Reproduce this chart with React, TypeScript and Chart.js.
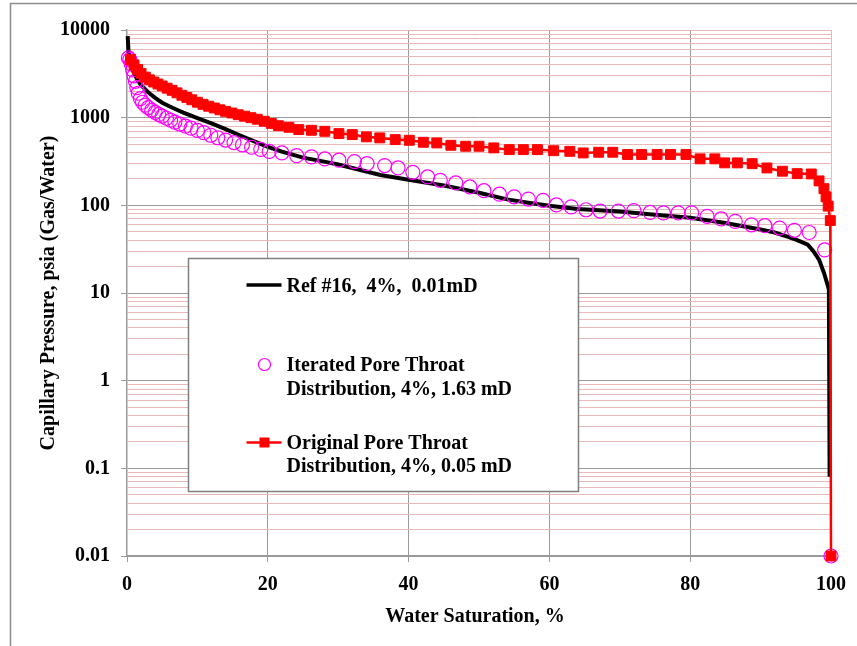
import React, { useEffect, useRef } from 'react';
import { Chart, registerables } from 'chart.js';

Chart.register(...registerables);

// ---------- data ----------
const refSw = [0.1, 0.2, 0.4, 0.7, 1, 1.5, 2, 3, 4, 5, 6, 7, 8, 9, 10, 12, 14, 16, 18, 20, 22, 25, 28, 30, 33, 36, 40, 45, 50, 54, 57, 60, 64, 67, 70, 75, 80, 85, 87.3, 90, 92, 93.8, 95.2, 96.7, 97.5, 98.3, 99, 99.7, 99.8];
const refPc = [8500, 6000, 4500, 3700, 3200, 2700, 2350, 1950, 1680, 1480, 1350, 1240, 1140, 1060, 990, 860, 740, 630, 540, 465, 410, 350, 315, 292, 255, 222, 196, 168, 139, 117, 107, 99, 91, 88, 85, 78, 72, 63, 58, 53, 49, 44, 40, 35.5, 30, 24, 17, 11, 0.08];

const itSw = [0.2, 0.4, 0.6, 0.8, 1.0, 1.2, 1.4, 1.6, 1.9, 2.2, 2.6, 3.0, 3.5, 4.0, 4.5, 5.0, 5.6, 6.2, 6.8, 7.5, 8.3, 9.1, 10.0, 10.9, 11.9, 12.9, 14.0, 15.2, 16.4, 17.7, 19.0, 20.2, 22.0, 24.1, 26.2, 28.1, 30.1, 32.3, 34.1, 36.6, 38.5, 40.6, 42.7, 44.5, 46.7, 48.7, 50.7, 52.9, 55.0, 57.0, 59.1, 61.0, 63.1, 65.2, 67.2, 69.8, 72.0, 74.3, 76.2, 78.3, 80.2, 82.4, 84.4, 86.4, 88.7, 90.6, 92.7, 94.8, 96.9, 99.1, 100];
const itPc = [4800, 4600, 4100, 3500, 3000, 2600, 2200, 1900, 1650, 1500, 1390, 1300, 1220, 1150, 1090, 1040, 985, 935, 890, 845, 800, 760, 715, 675, 630, 590, 555, 520, 490, 460, 435, 412, 396, 369, 357, 338, 327, 316, 299, 284, 267, 238, 211, 193, 180, 162, 147, 134, 125, 118, 114, 101, 96, 89, 86, 86, 87, 83, 82, 82, 82, 75, 70, 65.6, 60, 58.6, 55, 51.9, 49, 31, 0.01];

const orSw = [0.5, 1.0, 1.5, 2.0, 2.6, 3.2, 3.8, 4.4, 5.0, 5.7, 6.4, 7.1, 7.8, 8.5, 9.2, 10.0, 10.8, 11.6, 12.4, 13.2, 14.0, 14.9, 15.8, 16.7, 17.6, 18.5, 19.5, 20.5, 21.5, 23.0, 24.4, 26.2, 28.1, 30.1, 32.0, 34.0, 35.9, 38.1, 40.1, 42.1, 44.0, 46.0, 48.1, 50.0, 52.1, 54.3, 56.3, 58.3, 60.6, 62.9, 64.8, 67.0, 69.0, 71.1, 73.1, 75.3, 77.2, 79.4, 81.4, 83.5, 84.9, 86.7, 88.8, 90.9, 93.1, 95.2, 97.2, 98.3, 99.0, 99.3, 99.6, 99.9, 100];
const orPc = [4600, 4000, 3550, 3200, 2900, 2700, 2550, 2420, 2300, 2170, 2050, 1920, 1800, 1700, 1600, 1500, 1420, 1350, 1290, 1230, 1180, 1130, 1080, 1040, 1000, 960, 910, 860, 810, 777, 731, 718, 699, 658, 641, 604, 588, 562, 552, 524, 515, 484, 472, 472, 452, 432, 432, 432, 420, 413, 396, 403, 403, 380, 380, 380, 380, 380, 339, 339, 305, 305, 299, 267, 245, 230, 228, 190, 155, 125, 98, 67, 0.01];

const xTicks = [0, 20, 40, 60, 80, 100];
const yTickLabels = ['0.01', '0.1', '1', '10', '100', '1000', '10000'];
const seriesNames = [
  ['Ref #16,  4%,  0.01mD'],
  ['Iterated Pore Throat', 'Distribution, 4%, 1.63 mD'],
  ['Original Pore Throat', 'Distribution, 4%, 0.05 mD'],
];
const xTitle = 'Water Saturation, %';
const yTitle = 'Capillary Pressure, psia (Gas/Water)';

// ---------- styling ----------
const FONT = '"Liberation Serif", "Times New Roman", serif';
const GRAY = '#9a9a9a';
const PINK = '#e9b9b9';
const RED = '#ff0000';
const MAGENTA = '#ff00ff';

const yTickValues: number[] = [];
for (let e = -2; e <= 3; e++) {
  for (let m = 1; m <= 9; m++) yTickValues.push(Number((m * Math.pow(10, e)).toPrecision(10)));
}
yTickValues.push(10000);

const isMajor = (v: number) => {
  const l = Math.log10(v);
  return Math.abs(l - Math.round(l)) < 1e-9;
};

const decorPlugin = {
  id: 'decor',
  beforeDraw(chart: any) {
    const ctx = chart.ctx;
    ctx.save();
    ctx.fillStyle = '#ffffff';
    ctx.fillRect(0, 0, chart.width, chart.height);
    ctx.strokeStyle = '#8c8c8c';
    ctx.lineWidth = 1.5;
    ctx.strokeRect(10.5, 3.5, chart.width + 40, chart.height + 40);
    ctx.restore();
  },
  afterDraw(chart: any) {
    const ctx = chart.ctx;
    const area = chart.chartArea;
    ctx.save();
    ctx.fillStyle = '#000';
    ctx.font = `bold 20px ${FONT}`;
    ctx.textAlign = 'center';
    ctx.textBaseline = 'middle';
    ctx.fillText(xTitle, (area.left + area.right) / 2 - 4, 617);
    ctx.save();
    ctx.translate(49, (area.top + area.bottom) / 2);
    ctx.rotate(-Math.PI / 2);
    ctx.fillText(yTitle, 0, 0);
    ctx.restore();

    // legend box
    const bx = 188.5, by = 258.5, bw = 390, bh = 233;
    ctx.fillStyle = '#ffffff';
    ctx.fillRect(bx, by, bw, bh);
    ctx.strokeStyle = '#7f7f7f';
    ctx.lineWidth = 1.5;
    ctx.strokeRect(bx, by, bw, bh);

    const symX0 = bx + 58, symX1 = bx + 93, symC = bx + 76;
    const textX = bx + 98;
    ctx.textAlign = 'left';
    ctx.textBaseline = 'alphabetic';

    // Ref (black line)
    ctx.strokeStyle = '#000';
    ctx.lineWidth = 3.5;
    ctx.beginPath();
    ctx.moveTo(symX0, by + 26.5);
    ctx.lineTo(symX1, by + 26.5);
    ctx.stroke();
    ctx.fillStyle = '#000';
    ctx.fillText(seriesNames[0][0], textX, by + 33.5);

    // Iterated (magenta circle)
    ctx.strokeStyle = MAGENTA;
    ctx.lineWidth = 1.2;
    ctx.beginPath();
    ctx.arc(symC, by + 106, 6, 0, Math.PI * 2);
    ctx.stroke();
    ctx.fillText(seriesNames[1][0], textX, by + 112);
    ctx.fillText(seriesNames[1][1], textX, by + 136.5);

    // Original (red line + square)
    ctx.strokeStyle = RED;
    ctx.lineWidth = 2.5;
    ctx.beginPath();
    ctx.moveTo(symX0, by + 184);
    ctx.lineTo(symX1, by + 184);
    ctx.stroke();
    ctx.fillStyle = RED;
    ctx.fillRect(symC - 5, by + 179, 10, 10);
    ctx.fillStyle = '#000';
    ctx.fillText(seriesNames[2][0], textX, by + 190);
    ctx.fillText(seriesNames[2][1], textX, by + 213.5);
    ctx.restore();
  },
};

export default function App() {
  const canvasRef = useRef<HTMLCanvasElement | null>(null);

  useEffect(() => {
    const canvas = canvasRef.current;
    if (!canvas) return;
    const chart = new Chart(canvas, {
      type: 'scatter',
      data: {
        datasets: [
          {
            label: seriesNames[2].join(' '),
            data: orSw.map((x, i) => ({ x, y: orPc[i] })),
            showLine: true,
            borderColor: RED,
            backgroundColor: RED,
            borderWidth: 2.5,
            pointStyle: 'rect',
            pointRadius: 7,
            pointBorderWidth: 1,
            pointBackgroundColor: RED,
            pointBorderColor: RED,
            order: 0,
            clip: false,
          },
          {
            label: seriesNames[1].join(' '),
            data: itSw.map((x, i) => ({ x, y: itPc[i] })),
            showLine: false,
            pointStyle: 'circle',
            pointRadius: 7,
            pointBorderWidth: 1.2,
            pointBorderColor: MAGENTA,
            pointBackgroundColor: 'rgba(0,0,0,0)',
            order: 1,
            clip: false,
          },
          {
            label: seriesNames[0][0],
            data: refSw.map((x, i) => ({ x, y: refPc[i] })),
            showLine: true,
            borderColor: '#000',
            borderWidth: 4,
            pointRadius: 0,
            order: 2,
            clip: false,
          },
        ],
      } as any,
      options: {
        responsive: false,
        animation: false,
        events: [],
        layout: { padding: { left: 0, right: 20, top: 30, bottom: 0 } },
        plugins: {
          legend: { display: false },
          tooltip: { enabled: false },
          title: { display: false },
        },
        scales: {
          x: {
            type: 'linear',
            min: 0,
            max: 100,
            afterBuildTicks: (scale: any) => {
              scale.ticks = xTicks.map((v) => ({ value: v }));
            },
            afterFit: (scale: any) => {
              scale.height = 90;
            },
            ticks: {
              autoSkip: false,
              maxRotation: 0,
              padding: 11,
              color: '#000',
              font: { family: FONT, size: 20, weight: 'bold' },
              callback: (v: any) => String(v),
            },
            grid: {
              color: (c: any) => {
                const v = c.tick ? c.tick.value : 0;
                if (v === 0) return 'rgba(0,0,0,0)';
                if (v === 100) return PINK;
                return GRAY;
              },
              tickColor: GRAY,
              tickLength: 6,
              lineWidth: 1,
            },
            border: { display: true, color: GRAY, width: 1.5 },
          },
          y: {
            type: 'logarithmic',
            min: 0.01,
            max: 10000,
            afterBuildTicks: (scale: any) => {
              scale.ticks = yTickValues.map((v) => ({ value: v, major: isMajor(v) }));
            },
            afterFit: (scale: any) => {
              scale.width = 127;
            },
            ticks: {
              autoSkip: false,
              padding: 11,
              color: '#000',
              font: { family: FONT, size: 20, weight: 'bold' },
              callback: (v: any) => {
                if (!isMajor(v)) return '';
                const idx = Math.round(Math.log10(v)) + 2;
                return yTickLabels[idx];
              },
            },
            grid: {
              color: (c: any) => {
                const v = c.tick ? c.tick.value : 1;
                if (v === 10000) return PINK;
                return isMajor(v) ? GRAY : PINK;
              },
              tickColor: (c: any) => {
                const v = c.tick ? c.tick.value : 1;
                return isMajor(v) ? GRAY : 'rgba(0,0,0,0)';
              },
              tickLength: 6,
              lineWidth: 1,
            },
            border: { display: true, color: GRAY, width: 1.5 },
          },
        },
      } as any,
      plugins: [decorPlugin],
    });
    return () => chart.destroy();
  }, []);

  return (
    <div style={{ position: 'absolute', left: 0, top: 0, width: 857, height: 646 }}>
      <canvas ref={canvasRef} width={857} height={646} style={{ display: 'block' }} />
    </div>
  );
}
